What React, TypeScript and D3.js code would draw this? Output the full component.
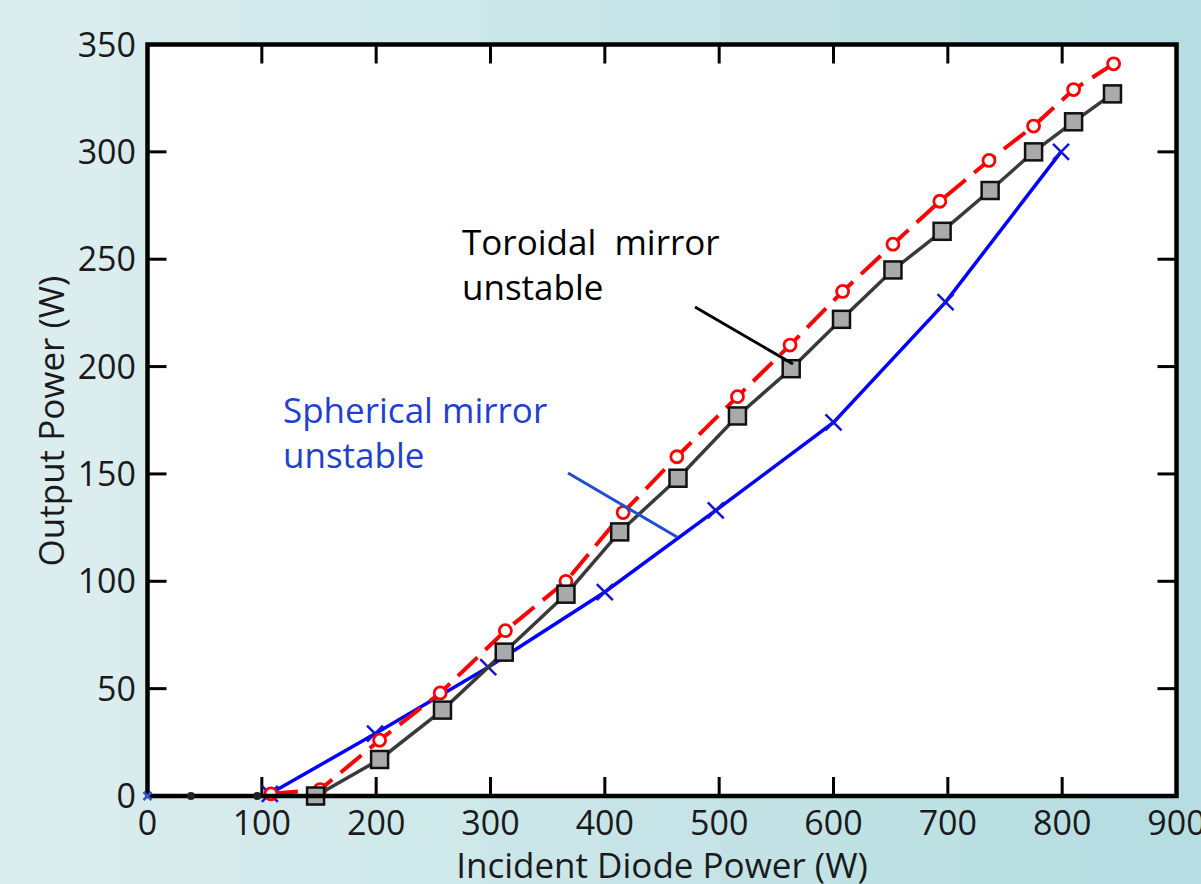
import React from 'react';
import * as d3 from 'd3';

// values (W)
const toroidalX = [147, 203, 258, 312, 366, 413, 464, 516, 563, 607, 652, 695, 737, 775, 810, 844];
const toroidalY = [0, 17, 40, 67, 94, 123, 148, 177, 199, 222, 245, 263, 282, 300, 314, 327];

const modelX = [108, 151, 203, 256, 313, 366, 416, 463, 516, 562, 608, 652, 693, 736, 775, 810, 845];
const modelY = [1, 3, 26, 48, 77, 100, 132, 158, 186, 210, 235, 257, 277, 296, 312, 329, 341];

const sphericalX = [107, 199, 298, 400, 497, 600, 698, 799];
const sphericalY = [1, 29, 60, 95, 133, 174, 230, 300];

// tiny marks sitting on the zero line
const zeroMarksX = [38, 96];

const xTicks = [0, 100, 200, 300, 400, 500, 600, 700, 800, 900];
const yTicks = [0, 50, 100, 150, 200, 250, 300, 350];

const width = 1201;
const height = 884;
const font = "'Open Sans', 'DejaVu Sans', sans-serif";

const App: React.FC = () => {
  const x = d3.scaleLinear().domain([0, 900]).range([147.5, 1176.5]);
  const y = d3.scaleLinear().domain([0, 350]).range([796, 44.5]);

  const line = d3
    .line<[number, number]>()
    .x((d) => x(d[0]))
    .y((d) => y(d[1]));

  const toroidal: [number, number][] = toroidalX.map((v, i) => [v, toroidalY[i]]);
  const model: [number, number][] = modelX.map((v, i) => [v, modelY[i]]);
  const spherical: [number, number][] = sphericalX.map((v, i) => [v, sphericalY[i]]);

  // stepped background, light on the left, deeper teal to the right
  const bgColor = d3.interpolateRgb('#dbedef', '#b6dde1');
  const stripes = d3.range(10);

  const [x0, x1] = x.range();
  const [y0, y1] = y.range();
  const tickLen = 19;

  return (
    <svg
      width={width}
      height={height}
      style={{ position: 'absolute', left: 0, top: 0, display: 'block' }}
      fontFamily={font}
    >
      {stripes.map((i) => (
        <rect
          key={i}
          x={(i * width) / stripes.length}
          y={0}
          width={width / stripes.length + 1}
          height={height}
          fill={bgColor(i / (stripes.length - 1))}
        />
      ))}

      <rect x={x0} y={y1} width={x1 - x0} height={y0 - y1} fill="#fff" />

      {/* ticks, all pointing inward */}
      <g stroke="#000" strokeWidth={3}>
        {xTicks.map((t) => (
          <g key={`xt${t}`}>
            <line x1={x(t)} x2={x(t)} y1={y0} y2={y0 - tickLen} />
            <line x1={x(t)} x2={x(t)} y1={y1} y2={y1 + tickLen} />
          </g>
        ))}
        {yTicks.map((t) => (
          <g key={`yt${t}`}>
            <line x1={x0} x2={x0 + tickLen} y1={y(t)} y2={y(t)} />
            <line x1={x1} x2={x1 - tickLen} y1={y(t)} y2={y(t)} />
          </g>
        ))}
      </g>

      {/* spherical mirror unstable */}
      <path d={line(spherical) || ''} fill="none" stroke="#0000ff" strokeWidth={3.5} />
      {spherical.map((d, i) => (
        <path
          key={`sx${i}`}
          d={`M${x(d[0]) - 8},${y(d[1]) - 8}L${x(d[0]) + 8},${y(d[1]) + 8}M${x(d[0]) - 8},${y(d[1]) + 8}L${x(d[0]) + 8},${y(d[1]) - 8}`}
          stroke="#1414d8"
          strokeWidth={2.5}
        />
      ))}

      {/* red dashed model curve */}
      <path
        d={line(model) || ''}
        fill="none"
        stroke="#ff0000"
        strokeWidth={4}
        strokeDasharray="27 11"
      />
      {model.map((d, i) => (
        <circle key={`mc${i}`} cx={x(d[0])} cy={y(d[1])} r={6} fill="#fff" stroke="#ff0000" strokeWidth={2.8} />
      ))}

      {/* toroidal mirror unstable */}
      <path d={line(toroidal) || ''} fill="none" stroke="#3a3a3a" strokeWidth={3.5} />
      {toroidal.map((d, i) => (
        <rect
          key={`ts${i}`}
          x={x(d[0]) - 8.5}
          y={y(d[1]) - 8.5}
          width={17}
          height={17}
          fill="#aaaaaa"
          stroke="#111"
          strokeWidth={2.5}
        />
      ))}

      {/* frame */}
      <rect x={x0} y={y1} width={x1 - x0} height={y0 - y1} fill="none" stroke="#000" strokeWidth={4.5} />

      {zeroMarksX.map((v) => (
        <circle key={`z${v}`} cx={x(v)} cy={y(0)} r={4} fill="#222" />
      ))}
      <path
        d={`M${x(0) - 4},${y(0) - 4}L${x(0) + 4},${y(0) + 4}M${x(0) - 4},${y(0) + 4}L${x(0) + 4},${y(0) - 4}`}
        stroke="#3355cc"
        strokeWidth={2.5}
      />

      {/* tick labels */}
      <g fontSize={34} fill="#1a1a1a">
        {xTicks.map((t) => (
          <text key={`xl${t}`} x={x(t)} y={835} textAnchor="middle">
            {t}
          </text>
        ))}
        {yTicks.map((t) => (
          <text key={`yl${t}`} x={136} y={y(t) + 12} textAnchor="end">
            {t}
          </text>
        ))}
      </g>

      {/* axis titles */}
      <text x={662} y={878} fontSize={35} textAnchor="middle" fill="#1a1a1a">
        Incident Diode Power (W)
      </text>
      <text
        transform={`translate(64,421) rotate(-90)`}
        fontSize={35}
        textAnchor="middle"
        fill="#1a1a1a"
      >
        Output Power (W)
      </text>

      {/* annotations */}
      <g fontSize={35} fill="#000">
        <text x={462} y={255} xmlSpace="preserve" style={{ whiteSpace: 'pre' }}>
          {'Toroidal  mirror'}
        </text>
        <text x={462} y={300}>unstable</text>
      </g>
      <line x1={695} y1={307} x2={793} y2={364} stroke="#000" strokeWidth={3} />

      <g fontSize={35} fill="#1f3fcf">
        <text x={283} y={423}>Spherical mirror</text>
        <text x={283} y={468}>unstable</text>
      </g>
      <line x1={568} y1={473} x2={677} y2={537} stroke="#1f4fd0" strokeWidth={3} />
    </svg>
  );
};

export default App;
